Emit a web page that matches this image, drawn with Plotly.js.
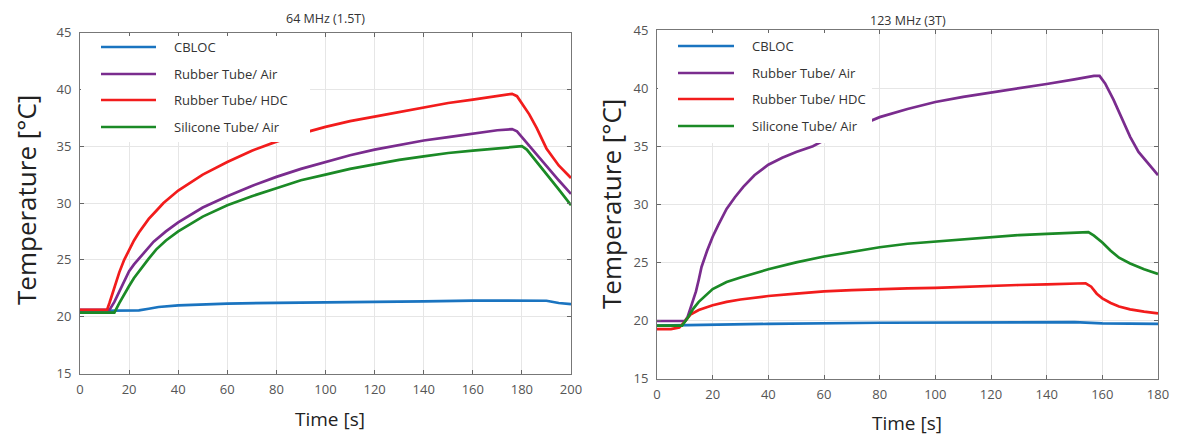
<!DOCTYPE html>
<html>
<head>
<meta charset="utf-8">
<script src="https://cdn.plot.ly/plotly-3.0.1.min.js"></script>
<style>html,body{margin:0;padding:0;background:#fff;}#chart{width:1185px;height:441px;}</style>
</head>
<body>
<div id="chart"></div>
<script>
// ---------- DATA ----------
const seriesNames = ["CBLOC", "Rubber Tube/ Air", "Rubber Tube/ HDC", "Silicone Tube/ Air"];
const panelTitles = ["64 MHz (1.5T)", "123 MHz (3T)"];
const xTitle = "Time [s]";
const yTitle = "Temperature [°C]";

// Left panel: 64 MHz (1.5T)
const l_cbloc_t = [0, 20, 24, 28, 32, 40, 50, 60, 80, 100, 120, 140, 160, 185, 190, 195, 200];
const l_cbloc_v = [20.5, 20.5, 20.55, 20.7, 20.85, 21.0, 21.1, 21.15, 21.22, 21.25, 21.3, 21.35, 21.42, 21.45, 21.4, 21.2, 21.1];

const l_rair_t = [0, 12, 14, 16, 18, 20, 22, 24, 27, 30, 35, 40, 50, 60, 70, 80, 90, 100, 110, 120, 130, 140, 150, 160, 170, 176, 178, 180, 185, 190, 195, 200];
const l_rair_v = [20.6, 20.6, 21.3, 22.2, 23.2, 24.0, 24.6, 25.1, 25.9, 26.6, 27.5, 28.3, 29.6, 30.6, 31.5, 32.3, 33.0, 33.6, 34.2, 34.7, 35.1, 35.5, 35.8, 36.1, 36.4, 36.5, 36.3, 35.8, 34.5, 33.2, 32.0, 30.8];

const l_rhdc_t = [0, 11, 12, 13, 14, 16, 18, 20, 22, 24, 26, 28, 31, 34, 40, 50, 60, 70, 80, 90, 100, 110, 120, 130, 140, 150, 160, 170, 176, 178, 180, 183, 186, 190, 195, 200];
const l_rhdc_v = [20.6, 20.6, 21.2, 21.9, 22.6, 23.9, 25.0, 25.9, 26.7, 27.4, 28.0, 28.6, 29.3, 30.0, 31.1, 32.5, 33.6, 34.6, 35.4, 36.1, 36.7, 37.2, 37.6, 38.0, 38.4, 38.8, 39.1, 39.4, 39.6, 39.4, 38.8, 37.8, 36.6, 34.8, 33.3, 32.2];

const l_sair_t = [0, 14, 16, 18, 20, 22, 24, 26, 28, 31, 35, 40, 50, 60, 70, 80, 90, 100, 110, 120, 130, 140, 150, 160, 170, 180, 182, 185, 190, 195, 200];
const l_sair_v = [20.35, 20.35, 21.2, 22.0, 22.7, 23.4, 24.0, 24.6, 25.1, 25.9, 26.7, 27.5, 28.8, 29.8, 30.6, 31.3, 32.0, 32.5, 33.0, 33.4, 33.8, 34.1, 34.4, 34.6, 34.8, 35.0, 34.7, 33.9, 32.6, 31.2, 29.8];

// Right panel: 123 MHz (3T)
const r_cbloc_t = [0, 10, 40, 80, 120, 150, 160, 180];
const r_cbloc_v = [19.55, 19.6, 19.7, 19.8, 19.85, 19.85, 19.75, 19.7];

const r_rair_t = [0, 10, 11, 12, 13, 14, 15, 16, 18, 20, 22, 25, 28, 31, 35, 40, 45, 50, 56, 60, 70, 80, 90, 100, 110, 120, 130, 140, 150, 157, 159, 161, 164, 167, 170, 173, 176, 180];
const r_rair_v = [19.95, 19.95, 20.3, 21.0, 21.8, 22.5, 23.5, 24.6, 26.0, 27.2, 28.2, 29.6, 30.6, 31.5, 32.5, 33.4, 34.0, 34.5, 35.0, 35.5, 36.5, 37.5, 38.2, 38.8, 39.25, 39.6, 39.95, 40.35, 40.75, 41.05, 41.05, 40.4, 39.0, 37.4, 35.8, 34.5, 33.6, 32.5];

const r_rhdc_t = [0, 5, 8, 10, 12, 15, 20, 25, 30, 40, 50, 60, 70, 80, 90, 100, 110, 120, 130, 140, 150, 154, 156, 158, 160, 163, 166, 170, 175, 180];
const r_rhdc_v = [19.25, 19.25, 19.4, 19.9, 20.5, 20.9, 21.3, 21.6, 21.8, 22.1, 22.3, 22.5, 22.6, 22.7, 22.75, 22.8, 22.9, 23.0, 23.05, 23.1, 23.15, 23.2, 22.9, 22.3, 21.9, 21.5, 21.2, 20.95, 20.75, 20.6];

const r_sair_t = [0, 9, 11, 13, 15, 18, 20, 25, 30, 40, 50, 60, 70, 80, 90, 100, 110, 120, 130, 140, 150, 155, 157, 160, 163, 166, 170, 175, 180];
const r_sair_v = [19.55, 19.55, 20.2, 21.0, 21.6, 22.3, 22.7, 23.3, 23.7, 24.4, 25.0, 25.5, 25.9, 26.3, 26.6, 26.8, 27.0, 27.2, 27.35, 27.45, 27.55, 27.6, 27.3, 26.7, 26.0, 25.4, 24.9, 24.4, 24.0];

const xTicks1 = [0, 20, 40, 60, 80, 100, 120, 140, 160, 180, 200];
const xTicks2 = [0, 20, 40, 60, 80, 100, 120, 140, 160, 180];
const yTicks = [15, 20, 25, 30, 35, 40, 45];

// ---------- STYLE ----------
const colors = ["#1a74c0", "#7a2c8e", "#f21c1c", "#1b8a26"];
const W = 1185, H = 441;
const PX = v => v / W;
const PY = v => 1 - v / H;
const FONT = "Open Sans, Noto Sans, sans-serif";

const leftData = [[l_cbloc_t, l_cbloc_v], [l_rair_t, l_rair_v], [l_rhdc_t, l_rhdc_v], [l_sair_t, l_sair_v]];
const rightData = [[r_cbloc_t, r_cbloc_v], [r_rair_t, r_rair_v], [r_rhdc_t, r_rhdc_v], [r_sair_t, r_sair_v]];

const traces = [];
leftData.forEach((d, i) => traces.push({
  x: d[0], y: d[1], type: "scatter", mode: "lines", name: seriesNames[i],
  xaxis: "x", yaxis: "y", showlegend: false,
  line: {color: colors[i], width: 2.7}
}));
rightData.forEach((d, i) => traces.push({
  x: d[0], y: d[1], type: "scatter", mode: "lines", name: seriesNames[i],
  xaxis: "x2", yaxis: "y2", showlegend: false,
  line: {color: colors[i], width: 2.7}
}));

function axisStyle(extra) {
  return Object.assign({
    showline: true, mirror: "ticks", linecolor: "#777", linewidth: 1,
    ticks: "inside", ticklen: 4, tickcolor: "#666", tickwidth: 1,
    showgrid: true, gridcolor: "#e6e6e6", gridwidth: 1, zeroline: false,
    tickfont: {family: FONT, size: 13, color: "#555"},
    fixedrange: true
  }, extra);
}

// legend geometry (pixels)
const legends = [
  {bg: [81, 36, 310, 142], lx0: 101, lx1: 156, tx: 172, rows: [47, 74, 100, 127]},
  {bg: [658, 33, 872, 143], lx0: 678, lx1: 734, tx: 750, rows: [46, 73, 99, 126]}
];

const shapes = [], annotations = [];
legends.forEach(L => {
  shapes.push({type: "rect", xref: "paper", yref: "paper", layer: "above",
    x0: PX(L.bg[0]), x1: PX(L.bg[2]), y0: PY(L.bg[1]), y1: PY(L.bg[3]),
    fillcolor: "#ffffff", line: {width: 0}});
  seriesNames.forEach((n, i) => {
    shapes.push({type: "line", xref: "paper", yref: "paper", layer: "above",
      x0: PX(L.lx0), x1: PX(L.lx1), y0: PY(L.rows[i]), y1: PY(L.rows[i]),
      line: {color: colors[i], width: 2.7}});
    annotations.push({xref: "paper", yref: "paper", x: PX(L.tx), y: PY(L.rows[i]),
      xanchor: "left", yanchor: "middle", showarrow: false, text: n,
      font: {family: FONT, size: 13, color: "#333"}});
  });
});

// panel titles
annotations.push({xref: "paper", yref: "paper", x: PX(325.5), y: PY(18), xanchor: "center", yanchor: "middle",
  showarrow: false, text: panelTitles[0], font: {family: FONT, size: 12.5, color: "#333"}});
annotations.push({xref: "paper", yref: "paper", x: PX(907.5), y: PY(20), xanchor: "center", yanchor: "middle",
  showarrow: false, text: panelTitles[1], font: {family: FONT, size: 12.5, color: "#333"}});
// x titles
annotations.push({xref: "paper", yref: "paper", x: PX(330), y: PY(419), xanchor: "center", yanchor: "middle",
  showarrow: false, text: xTitle, font: {family: FONT, size: 19, color: "#222"}});
annotations.push({xref: "paper", yref: "paper", x: PX(907), y: PY(423), xanchor: "center", yanchor: "middle",
  showarrow: false, text: xTitle, font: {family: FONT, size: 19, color: "#222"}});
// y titles
annotations.push({xref: "paper", yref: "paper", x: PX(26), y: PY(200), xanchor: "center", yanchor: "middle",
  showarrow: false, textangle: -90, text: yTitle, font: {family: FONT, size: 26, color: "#222"}});
annotations.push({xref: "paper", yref: "paper", x: PX(611), y: PY(204), xanchor: "center", yanchor: "middle",
  showarrow: false, textangle: -90, text: yTitle, font: {family: FONT, size: 26, color: "#222"}});

const layout = {
  width: W, height: H,
  margin: {l: 0, r: 0, t: 0, b: 0, pad: 0},
  paper_bgcolor: "#ffffff", plot_bgcolor: "#ffffff",
  showlegend: false,
  font: {family: FONT},
  xaxis: axisStyle({domain: [PX(80), PX(571)], range: [0, 200], tickvals: xTicks1, anchor: "y", ticklabelstandoff: 4}),
  yaxis: axisStyle({domain: [PY(373.5), PY(32.5)], range: [15, 45], tickvals: yTicks, anchor: "x", ticklabelstandoff: 5}),
  xaxis2: axisStyle({domain: [PX(657), PX(1158)], range: [0, 180], tickvals: xTicks2, anchor: "y2", ticklabelstandoff: 4}),
  yaxis2: axisStyle({domain: [PY(378.5), PY(30)], range: [15, 45], tickvals: yTicks, anchor: "x2", ticklabelstandoff: 5}),
  shapes: shapes,
  annotations: annotations
};

Plotly.newPlot("chart", traces, layout, {displayModeBar: false, staticPlot: true});
</script>
</body>
</html>
